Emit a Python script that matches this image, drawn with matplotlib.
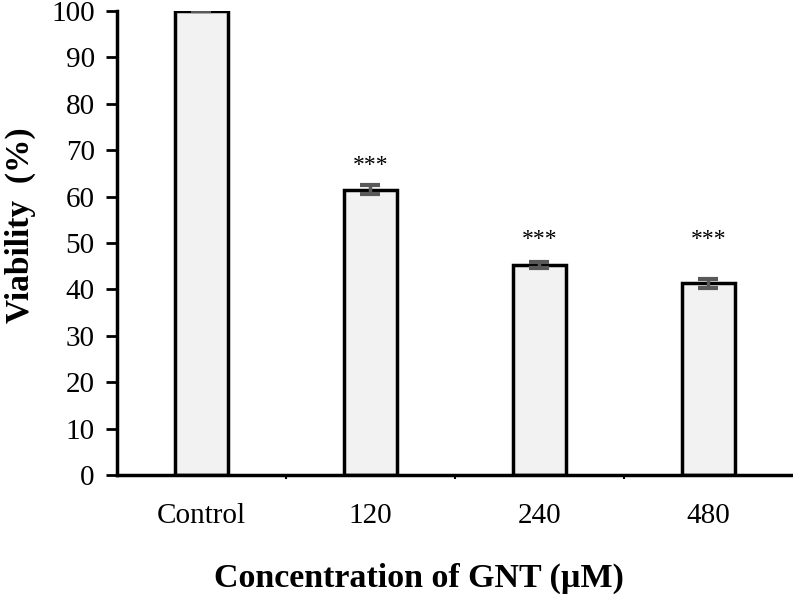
import numpy as np
import matplotlib.pyplot as plt
from matplotlib.ticker import FixedLocator, NullFormatter

# Viability data
groups = ["Control", "120", "240", "480"]
viability = [100.0, 61.5, 45.2, 41.3]
err = [0.0, 0.9, 0.6, 0.9]
star_y = [None, 66.8, 50.8, 50.8]
stars = ["", "***", "***", "***"]

plt.rcParams['font.family'] = ['Liberation Serif', 'DejaVu Serif']

fig = plt.figure(figsize=(7.93, 5.97), dpi=100)
ax = fig.add_axes([0.1475, 0.2044, 0.8525, 0.7772])

x = np.arange(len(groups))
ax.bar(x, viability, width=0.31, color='#f2f2f2', edgecolor='black',
       linewidth=2.5, zorder=2)
ax.errorbar(x, viability, yerr=err, fmt='none', ecolor='#595959',
            elinewidth=2.5, capsize=7, capthick=3, zorder=3)

for xi, yi, s in zip(x, star_y, stars):
    if s:
        ax.text(xi, yi, s, ha='center', va='center', fontsize=17)

ax.set_xlim(-0.5, 3.5)
ax.set_ylim(0, 100)
ax.set_yticks(np.arange(0, 101, 10))
ax.set_xticks(x)
ax.set_xticklabels(groups)
ax.xaxis.set_minor_locator(FixedLocator([0.5, 1.5, 2.5]))
ax.xaxis.set_minor_formatter(NullFormatter())

for side in ['top', 'right']:
    ax.spines[side].set_visible(False)
for side in ['left', 'bottom']:
    ax.spines[side].set_linewidth(2.5)

ax.tick_params(axis='y', direction='out', length=8, width=2, labelsize=21, pad=8)
ax.tick_params(axis='x', which='major', length=0, labelsize=21, pad=20)
ax.tick_params(axis='x', which='minor', direction='out', length=3, width=1.5)

ax.set_xlabel("Concentration of GNT (µM)", fontsize=24.5, fontweight='bold')
ax.xaxis.set_label_coords(0.447, -0.19)
ax.set_ylabel("Viability  (%)", fontsize=24, fontweight='bold')
ax.yaxis.set_label_coords(-0.12, 0.539)

plt.savefig("out.png", dpi=100)
